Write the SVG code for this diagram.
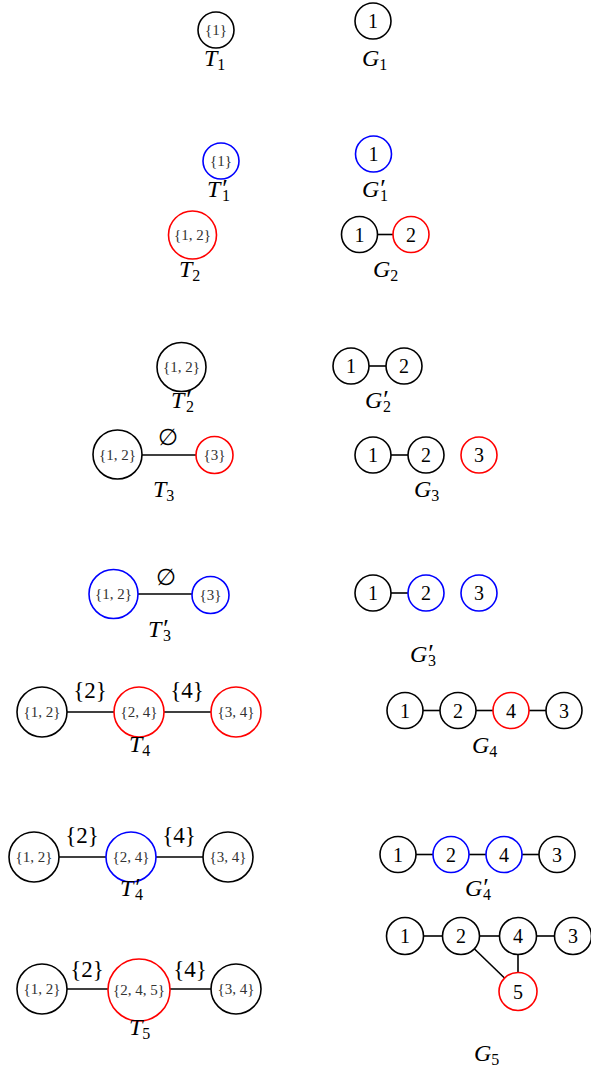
<svg xmlns="http://www.w3.org/2000/svg" width="591" height="1072" viewBox="0 0 591 1072">
<style>
circle{fill:#fff;stroke:#000;stroke-width:1.6}
circle.r{stroke:#ff0000}
circle.b{stroke:#0000ff}
.e line{stroke:#000;stroke-width:1.6}
text{font-family:"Liberation Serif","DejaVu Serif",serif;fill:#000}
.tn{font-size:15px;text-anchor:middle;fill:#333}
.gn{font-size:20px;text-anchor:middle}
.lb{font-size:24px}
.lb .v{font-style:italic}
.lb .s{font-size:16px}
.lb .p{font-size:26px}
.el{font-size:23px;text-anchor:middle}
</style>
<g id="connectors" class="e">
<line x1="378" y1="234.5" x2="393" y2="234.5"/>
<line x1="369" y1="366" x2="386" y2="366"/>
<line x1="142" y1="455" x2="196" y2="455"/>
<line x1="391" y1="455" x2="408" y2="455"/>
<line x1="138" y1="594" x2="192" y2="594"/>
<line x1="391" y1="593" x2="408" y2="593"/>
<line x1="67" y1="712" x2="114" y2="712"/>
<line x1="164" y1="712" x2="211" y2="712"/>
<line x1="423" y1="710.5" x2="440" y2="710.5"/>
<line x1="476" y1="710.5" x2="493" y2="710.5"/>
<line x1="529" y1="710.5" x2="546" y2="710.5"/>
<line x1="59" y1="857" x2="106" y2="857"/>
<line x1="156" y1="857" x2="203" y2="857"/>
<line x1="416" y1="854.5" x2="433" y2="854.5"/>
<line x1="469" y1="854.5" x2="486" y2="854.5"/>
<line x1="522" y1="854.5" x2="539" y2="854.5"/>
<line x1="67" y1="989" x2="108" y2="989"/>
<line x1="170" y1="989" x2="211" y2="989"/>
<line x1="423" y1="936" x2="443" y2="936"/>
<line x1="479" y1="936" x2="500" y2="936"/>
<line x1="536" y1="936" x2="555" y2="936"/>
<line x1="518" y1="954" x2="518" y2="973"/>
<line x1="474" y1="948.5" x2="505" y2="978.5"/>
</g>
<g id="edge-labels">
<text class="el" x="168" y="445">∅</text>
<text class="el" x="166" y="585">∅</text>
<text class="el" x="90" y="698">{2}</text>
<text class="el" x="187" y="698">{4}</text>
<text class="el" x="82" y="843">{2}</text>
<text class="el" x="179" y="843">{4}</text>
<text class="el" x="87" y="977">{2}</text>
<text class="el" x="190" y="977">{4}</text>
</g>
<g id="T1"><circle cx="216" cy="30" r="18"/><text class="tn" x="216" y="35">{1}</text></g>
<g id="G1-1"><circle cx="373" cy="21" r="18"/><text class="gn" x="373" y="28">1</text></g>
<g id="T1p"><circle class="b" cx="221" cy="161" r="18"/><text class="tn" x="221" y="166">{1}</text></g>
<g id="G1p-1"><circle class="b" cx="373.5" cy="154" r="18"/><text class="gn" x="373.5" y="161">1</text></g>
<g id="T2"><circle class="r" cx="192.5" cy="235" r="24"/><text class="tn" x="192.5" y="240">{1, 2}</text></g>
<g id="G2-1"><circle cx="359.5" cy="234.5" r="18"/><text class="gn" x="359.5" y="241.5">1</text></g>
<g id="G2-2"><circle class="r" cx="411" cy="234.5" r="18"/><text class="gn" x="411" y="241.5">2</text></g>
<g id="T2p"><circle cx="181.5" cy="367" r="24.5"/><text class="tn" x="181.5" y="372">{1, 2}</text></g>
<g id="G2p-1"><circle cx="351" cy="366" r="18"/><text class="gn" x="351" y="373">1</text></g>
<g id="G2p-2"><circle cx="404" cy="366" r="18"/><text class="gn" x="404" y="373">2</text></g>
<g id="T3-a"><circle cx="117.5" cy="454.5" r="24.5"/><text class="tn" x="117.5" y="459.5">{1, 2}</text></g>
<g id="T3-b"><circle class="r" cx="214.5" cy="455" r="18.5"/><text class="tn" x="214.5" y="460">{3}</text></g>
<g id="G3-1"><circle cx="373" cy="455" r="18"/><text class="gn" x="373" y="462">1</text></g>
<g id="G3-2"><circle cx="426" cy="455" r="18"/><text class="gn" x="426" y="462">2</text></g>
<g id="G3-3"><circle class="r" cx="479" cy="455" r="18"/><text class="gn" x="479" y="462">3</text></g>
<g id="T3p-a"><circle class="b" cx="113.5" cy="594" r="24.5"/><text class="tn" x="113.5" y="599">{1, 2}</text></g>
<g id="T3p-b"><circle class="b" cx="210.5" cy="595" r="18.5"/><text class="tn" x="210.5" y="600">{3}</text></g>
<g id="G3p-1"><circle cx="373" cy="593" r="18"/><text class="gn" x="373" y="600">1</text></g>
<g id="G3p-2"><circle class="b" cx="426" cy="593" r="18"/><text class="gn" x="426" y="600">2</text></g>
<g id="G3p-3"><circle class="b" cx="479" cy="593" r="18"/><text class="gn" x="479" y="600">3</text></g>
<g id="T4-a"><circle cx="42" cy="712" r="25"/><text class="tn" x="42" y="717">{1, 2}</text></g>
<g id="T4-b"><circle class="r" cx="139" cy="712" r="25"/><text class="tn" x="139" y="717">{2, 4}</text></g>
<g id="T4-c"><circle class="r" cx="236" cy="712" r="25"/><text class="tn" x="236" y="717">{3, 4}</text></g>
<g id="G4-1"><circle cx="405" cy="710.5" r="18"/><text class="gn" x="405" y="717.5">1</text></g>
<g id="G4-2"><circle cx="458" cy="710.5" r="18"/><text class="gn" x="458" y="717.5">2</text></g>
<g id="G4-4"><circle class="r" cx="511" cy="710.5" r="18"/><text class="gn" x="511" y="717.5">4</text></g>
<g id="G4-3"><circle cx="564" cy="710.5" r="18"/><text class="gn" x="564" y="717.5">3</text></g>
<g id="T4p-a"><circle cx="34" cy="857" r="25"/><text class="tn" x="34" y="862">{1, 2}</text></g>
<g id="T4p-b"><circle class="b" cx="131" cy="857" r="25"/><text class="tn" x="131" y="862">{2, 4}</text></g>
<g id="T4p-c"><circle cx="228" cy="857" r="25"/><text class="tn" x="228" y="862">{3, 4}</text></g>
<g id="G4p-1"><circle cx="398" cy="854.5" r="18"/><text class="gn" x="398" y="861.5">1</text></g>
<g id="G4p-2"><circle class="b" cx="451" cy="854.5" r="18"/><text class="gn" x="451" y="861.5">2</text></g>
<g id="G4p-4"><circle class="b" cx="504" cy="854.5" r="18"/><text class="gn" x="504" y="861.5">4</text></g>
<g id="G4p-3"><circle cx="557" cy="854.5" r="18"/><text class="gn" x="557" y="861.5">3</text></g>
<g id="T5-a"><circle cx="42" cy="989" r="25"/><text class="tn" x="42" y="994">{1, 2}</text></g>
<g id="T5-b"><circle class="r" cx="139" cy="990" r="31"/><text class="tn" x="139" y="995">{2, 4, 5}</text></g>
<g id="T5-c"><circle cx="236" cy="989" r="25"/><text class="tn" x="236" y="994">{3, 4}</text></g>
<g id="G5-1"><circle cx="405" cy="936" r="18.5"/><text class="gn" x="405" y="943">1</text></g>
<g id="G5-2"><circle cx="461" cy="936" r="18.5"/><text class="gn" x="461" y="943">2</text></g>
<g id="G5-4"><circle cx="518" cy="936" r="18.5"/><text class="gn" x="518" y="943">4</text></g>
<g id="G5-3"><circle cx="573" cy="936" r="18.5"/><text class="gn" x="573" y="943">3</text></g>
<g id="G5-5"><circle class="r" cx="518" cy="991.5" r="19"/><text class="gn" x="518" y="998.5">5</text></g>
<g id="labels">
<text class="lb" x="204" y="66"><tspan class="v">T</tspan><tspan class="s" dy="4">1</tspan></text>
<text class="lb" x="362" y="66"><tspan class="v">G</tspan><tspan class="s" dy="4">1</tspan></text>
<text class="lb" x="207" y="197"><tspan class="v">T</tspan><tspan class="p" dx="2">′</tspan><tspan class="s" dx="-6" dy="4">1</tspan></text>
<text class="lb" x="362" y="197"><tspan class="v">G</tspan><tspan class="p" dx="1">′</tspan><tspan class="s" dx="-6" dy="4">1</tspan></text>
<text class="lb" x="179" y="277"><tspan class="v">T</tspan><tspan class="s" dy="4">2</tspan></text>
<text class="lb" x="373" y="277"><tspan class="v">G</tspan><tspan class="s" dy="4">2</tspan></text>
<text class="lb" x="171" y="408"><tspan class="v">T</tspan><tspan class="p" dx="2">′</tspan><tspan class="s" dx="-6" dy="4">2</tspan></text>
<text class="lb" x="365" y="408"><tspan class="v">G</tspan><tspan class="p" dx="1">′</tspan><tspan class="s" dx="-6" dy="4">2</tspan></text>
<text class="lb" x="153" y="497"><tspan class="v">T</tspan><tspan class="s" dy="4">3</tspan></text>
<text class="lb" x="414" y="497"><tspan class="v">G</tspan><tspan class="s" dy="4">3</tspan></text>
<text class="lb" x="148" y="637"><tspan class="v">T</tspan><tspan class="p" dx="2">′</tspan><tspan class="s" dx="-6" dy="4">3</tspan></text>
<text class="lb" x="410" y="662"><tspan class="v">G</tspan><tspan class="p" dx="1">′</tspan><tspan class="s" dx="-6" dy="4">3</tspan></text>
<text class="lb" x="129" y="752"><tspan class="v">T</tspan><tspan class="s" dy="4">4</tspan></text>
<text class="lb" x="472" y="753"><tspan class="v">G</tspan><tspan class="s" dy="4">4</tspan></text>
<text class="lb" x="120" y="896"><tspan class="v">T</tspan><tspan class="p" dx="2">′</tspan><tspan class="s" dx="-6" dy="4">4</tspan></text>
<text class="lb" x="465" y="896"><tspan class="v">G</tspan><tspan class="p" dx="1">′</tspan><tspan class="s" dx="-6" dy="4">4</tspan></text>
<text class="lb" x="129" y="1035"><tspan class="v">T</tspan><tspan class="s" dy="4">5</tspan></text>
<text class="lb" x="474" y="1061"><tspan class="v">G</tspan><tspan class="s" dy="4">5</tspan></text>
</g>
</svg>
